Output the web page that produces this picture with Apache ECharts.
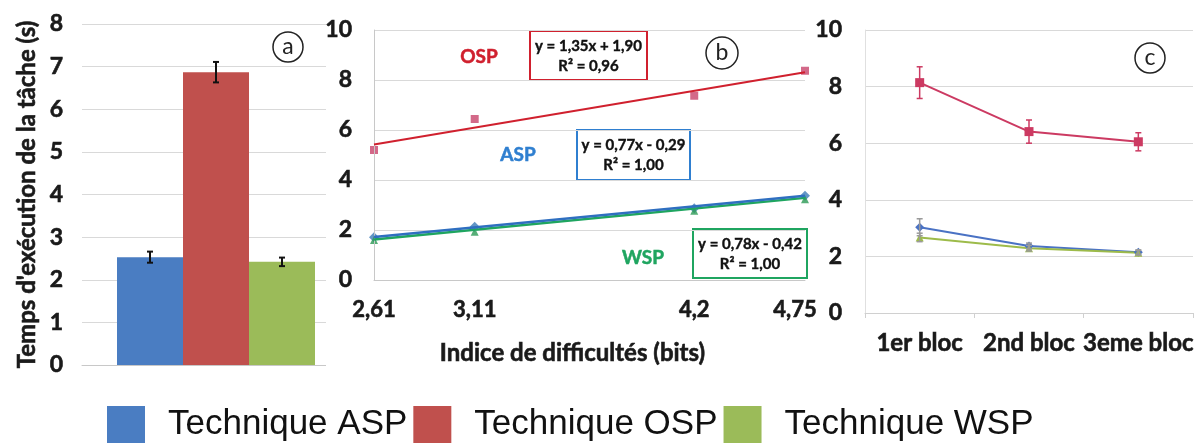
<!DOCTYPE html>
<html>
<head>
<meta charset="utf-8">
<script src="https://cdn.jsdelivr.net/npm/echarts@6/dist/echarts.min.js"></script>
<style>
  html, body { margin: 0; padding: 0; background: #ffffff; }
  #chart { width: 1203px; height: 443px; }
</style>
</head>
<body>
<div id="chart"></div>
<script>
// Panel a: mean task time per technique
const techniques = ['Technique ASP', 'Technique OSP', 'Technique WSP'];
const meanTime = [2.53, 6.87, 2.42];
const meanTimeErr = [0.13, 0.24, 0.10];

// Panel b: time vs index of difficulty, with linear fits
const difficulty = [2.61, 3.11, 4.2, 4.75];
const aspByID = [1.71, 2.13, 2.87, 3.37];
const ospByID = [5.20, 6.44, 7.37, 8.37];
const wspByID = [1.60, 1.93, 2.77, 3.23];
const fitSlope = [0.77, 1.35, 0.78];      // ASP, OSP, WSP
const fitIntercept = [-0.29, 1.90, -0.42];
const fitR2 = [1.00, 0.96, 1.00];

// Panel c: time per block
const blocks = ['1er bloc', '2nd bloc', '3eme bloc'];
const aspByBlock = [3.03, 2.37, 2.15];
const aspBlockErr = [0.30, 0.10, 0.08];
const ospByBlock = [8.14, 6.41, 6.05];
const ospBlockErr = [0.56, 0.41, 0.32];
const wspByBlock = [2.67, 2.29, 2.13];
const wspBlockErr = [0.15, 0.10, 0.08];

const barColors = ['#4a7dc2', '#c0504d', '#9bbb59'];
const FONT = 'Lato, "Open Sans", sans-serif';
const INK = '#1a1a1a';
const fmtComma = v => String(v).replace('.', ',');
const fmtFit = (a, b) => 'y = ' + a.toFixed(2).replace('.', ',') + 'x ' + (b < 0 ? '- ' : '+ ') + Math.abs(b).toFixed(2).replace('.', ',');

const chart = echarts.init(document.getElementById('chart'), null, { renderer: 'canvas' });

const BAR_W = 66;

// error bar drawer for custom series; offsets shift along x in pixels
function errorBarItem(color, capHalf, lineW, offsets) {
  return function (params, api) {
    const x = api.value(0), lo = api.value(1), hi = api.value(2);
    const off = offsets ? offsets[params.dataIndex] : 0;
    const pLo = api.coord([x, lo]);
    const pHi = api.coord([x, hi]);
    const cx = pLo[0] + off;
    const st = { stroke: color, lineWidth: lineW };
    return {
      type: 'group',
      children: [
        { type: 'line', shape: { x1: cx, y1: pLo[1], x2: cx, y2: pHi[1] }, style: st },
        { type: 'line', shape: { x1: cx - capHalf, y1: pLo[1], x2: cx + capHalf, y2: pLo[1] }, style: st },
        { type: 'line', shape: { x1: cx - capHalf, y1: pHi[1], x2: cx + capHalf, y2: pHi[1] }, style: st }
      ]
    };
  };
}

function fitLine(i) {
  const x0 = difficulty[0], x1 = difficulty[difficulty.length - 1];
  return [[x0, fitSlope[i] * x0 + fitIntercept[i]], [x1, fitSlope[i] * x1 + fitIntercept[i]]];
}

function withErr(vals, errs) {
  return vals.map((v, i) => [i, v - errs[i], v + errs[i]]);
}

// heavy text look: bold face plus a thin outline of the same ink
const heavy = (size, color) => ({
  fontFamily: FONT, fontWeight: 'bold', fontSize: size, color: color || INK,
  textBorderColor: color || INK, textBorderWidth: 0.6
});
const gridLineStyle = { color: '#d9d9d9', width: 1 };

function fitBox(x, y, w, h, color, i) {
  const txt = (t, ty) => ({
    type: 'text', x: w / 2, y: ty,
    style: { text: t, align: 'center', verticalAlign: 'middle', font: 'bold 15px ' + FONT, fill: '#111', stroke: '#111', lineWidth: 0.4 }
  });
  return {
    type: 'group', x: x, y: y, z: 10,
    children: [
      { type: 'rect', shape: { x: 0, y: 0, width: w, height: h }, style: { fill: '#fff', stroke: color, lineWidth: 2 } },
      txt(fmtFit(fitSlope[i], fitIntercept[i]), 15.5),
      txt('R² = ' + fitR2[i].toFixed(2).replace('.', ','), 35.5)
    ]
  };
}

function circleTag(x, y, r, letter) {
  return {
    type: 'group', x: x, y: y, z: 10,
    children: [
      { type: 'circle', shape: { cx: 0, cy: 0, r: r }, style: { fill: '#fff', stroke: '#222', lineWidth: 1.5 } },
      { type: 'text', x: 0, y: 0, style: { text: letter, align: 'center', verticalAlign: 'middle', font: '23px ' + FONT, fill: '#222' } }
    ]
  };
}

function seriesTag(x, y, text, color) {
  return {
    type: 'text', x: x, y: y, z: 10,
    style: { text: text, align: 'center', verticalAlign: 'middle', font: 'bold 19px ' + FONT, fill: color, stroke: color, lineWidth: 0.5 }
  };
}

const lastID = difficulty[difficulty.length - 1];
const idLabelStyle = heavy(22);

const option = {
  backgroundColor: '#ffffff',
  animation: false,
  legend: {
    data: techniques,
    left: 107, top: 406, padding: 0,
    itemWidth: 38, itemHeight: 37, itemGap: 6,
    icon: 'rect',
    textStyle: { fontFamily: '"Liberation Sans", Arial, sans-serif', fontSize: 35, color: '#111', padding: [0, 0, 0, 18] }
  },
  grid: [
    { left: 82, top: 24, width: 268, height: 341 },
    { left: 374, top: 30, width: 431, height: 250 },
    { left: 865, top: 30, width: 328, height: 283 }
  ],
  xAxis: [
    {
      gridIndex: 0, type: 'category', data: [''],
      axisLine: { lineStyle: { color: '#c8c8c8' } }, axisTick: { show: false }, axisLabel: { show: false }
    },
    {
      gridIndex: 1, type: 'value', min: difficulty[0], max: lastID, z: 3,
      axisLine: { show: true, onZero: false, lineStyle: { color: '#c8c8c8' } },
      axisTick: { show: false }, splitLine: { show: false },
      axisLabel: Object.assign({
        customValues: difficulty, margin: 19, showMinLabel: true, showMaxLabel: true,
        // the last label is nudged inward so it stays clear of panel c
        formatter: v => (Math.abs(v - lastID) < 1e-9 ? '{end|' + fmtComma(v) + '}' : fmtComma(v)),
        rich: { end: Object.assign({ padding: [0, 20, 0, 0] }, idLabelStyle) }
      }, idLabelStyle),
      name: 'Indice de difficultés (bits)', nameLocation: 'middle', nameGap: 61,
      nameTextStyle: Object.assign({ padding: [0, 34, 0, 0] }, heavy(24))
    },
    {
      gridIndex: 2, type: 'category', data: blocks, boundaryGap: true,
      axisLine: { lineStyle: { color: '#d0d0d0' } },
      axisTick: { show: true, length: 5, lineStyle: { color: '#d0d0d0' } },
      axisLabel: Object.assign({ margin: 18, interval: 0 }, heavy(24))
    }
  ],
  yAxis: [
    {
      gridIndex: 0, type: 'value', min: 0, max: 8, interval: 1,
      axisLine: { show: false }, axisTick: { show: false },
      splitLine: { lineStyle: gridLineStyle },
      axisLabel: Object.assign({ margin: 19 }, heavy(23)),
      name: "Temps d'exécution de la tâche (s)", nameLocation: 'middle', nameRotate: 90, nameGap: 43,
      nameTextStyle: heavy(24)
    },
    {
      gridIndex: 1, type: 'value', min: 0, max: 10, interval: 2, z: 3,
      axisLine: { show: true, lineStyle: { color: '#c8c8c8' } }, axisTick: { show: false },
      splitLine: { lineStyle: gridLineStyle },
      axisLabel: Object.assign({ margin: 22 }, heavy(23))
    },
    {
      gridIndex: 2, type: 'value', min: 0, max: 10, interval: 2,
      axisLine: { show: true, lineStyle: { color: '#e0e0e0' } }, axisTick: { show: false },
      splitLine: { lineStyle: gridLineStyle },
      axisLabel: Object.assign({ margin: 23 }, heavy(23))
    }
  ],
  graphic: [
    // keeps panel a's grid lines from running into panel b
    { type: 'rect', shape: { x: 326, y: 0, width: 30, height: 372 }, style: { fill: '#fff' }, z: 1, silent: true },
    circleTag(288, 47, 15, 'a'),
    circleTag(722, 53, 16, 'b'),
    circleTag(1150, 58, 15, 'c'),
    seriesTag(479, 57, 'OSP', '#d0202e'),
    seriesTag(518, 155, 'ASP', '#2f7fd0'),
    seriesTag(643, 258, 'WSP', '#1fa560'),
    fitBox(530, 31, 117, 49, '#d0202e', 1),
    fitBox(577, 130, 113, 50, '#2f7fd0', 0),
    fitBox(693, 229, 114, 49, '#1fa560', 2)
  ],
  series: [
    // panel a bars
    ...techniques.map((name, i) => ({
      name: name, type: 'bar', xAxisIndex: 0, yAxisIndex: 0,
      data: [meanTime[i]], barWidth: BAR_W, barGap: '0%',
      itemStyle: { color: barColors[i] }
    })),
    {
      type: 'custom', xAxisIndex: 0, yAxisIndex: 0, z: 5,
      renderItem: errorBarItem('#111', 3, 2, [-BAR_W, 0, BAR_W]),
      data: meanTime.map((v, i) => [0, v - meanTimeErr[i], v + meanTimeErr[i]])
    },
    // panel b fits and measured points
    { type: 'line', xAxisIndex: 1, yAxisIndex: 1, data: fitLine(1), symbol: 'none', lineStyle: { color: '#d0202e', width: 2 } },
    { type: 'line', xAxisIndex: 1, yAxisIndex: 1, data: fitLine(2), symbol: 'none', lineStyle: { color: '#1fa560', width: 2.5 } },
    { type: 'line', xAxisIndex: 1, yAxisIndex: 1, data: fitLine(0), symbol: 'none', lineStyle: { color: '#2f6fc0', width: 2.5 } },
    { type: 'scatter', xAxisIndex: 1, yAxisIndex: 1, symbol: 'rect', symbolSize: 8, itemStyle: { color: '#c8446c' }, data: difficulty.map((d, i) => [d, ospByID[i]]) },
    { type: 'scatter', xAxisIndex: 1, yAxisIndex: 1, symbol: 'diamond', symbolSize: 10, itemStyle: { color: '#3c7cb8' }, data: difficulty.map((d, i) => [d, aspByID[i]]) },
    { type: 'scatter', xAxisIndex: 1, yAxisIndex: 1, symbol: 'triangle', symbolSize: 8, itemStyle: { color: '#2c9a55' }, data: difficulty.map((d, i) => [d, wspByID[i]]) },
    // panel c per block
    { type: 'line', xAxisIndex: 2, yAxisIndex: 2, data: ospByBlock, symbol: 'rect', symbolSize: 9, lineStyle: { color: '#cc3a62', width: 2 }, itemStyle: { color: '#cc3a62' } },
    { type: 'line', xAxisIndex: 2, yAxisIndex: 2, data: aspByBlock, symbol: 'diamond', symbolSize: 9, lineStyle: { color: '#4a72c4', width: 2 }, itemStyle: { color: '#4a72c4' } },
    { type: 'line', xAxisIndex: 2, yAxisIndex: 2, data: wspByBlock, symbol: 'triangle', symbolSize: 8, lineStyle: { color: '#9dbb4a', width: 2 }, itemStyle: { color: '#9dbb4a' } },
    { type: 'custom', xAxisIndex: 2, yAxisIndex: 2, z: 5, renderItem: errorBarItem('#cc3a62', 3, 1.5), data: withErr(ospByBlock, ospBlockErr) },
    { type: 'custom', xAxisIndex: 2, yAxisIndex: 2, z: 5, renderItem: errorBarItem('#9a9a9a', 3, 1.5), data: withErr(aspByBlock, aspBlockErr) },
    { type: 'custom', xAxisIndex: 2, yAxisIndex: 2, z: 5, renderItem: errorBarItem('#9a9a9a', 3, 1.5), data: withErr(wspByBlock, wspBlockErr) }
  ]
};

chart.setOption(option);
</script>
</body>
</html>
